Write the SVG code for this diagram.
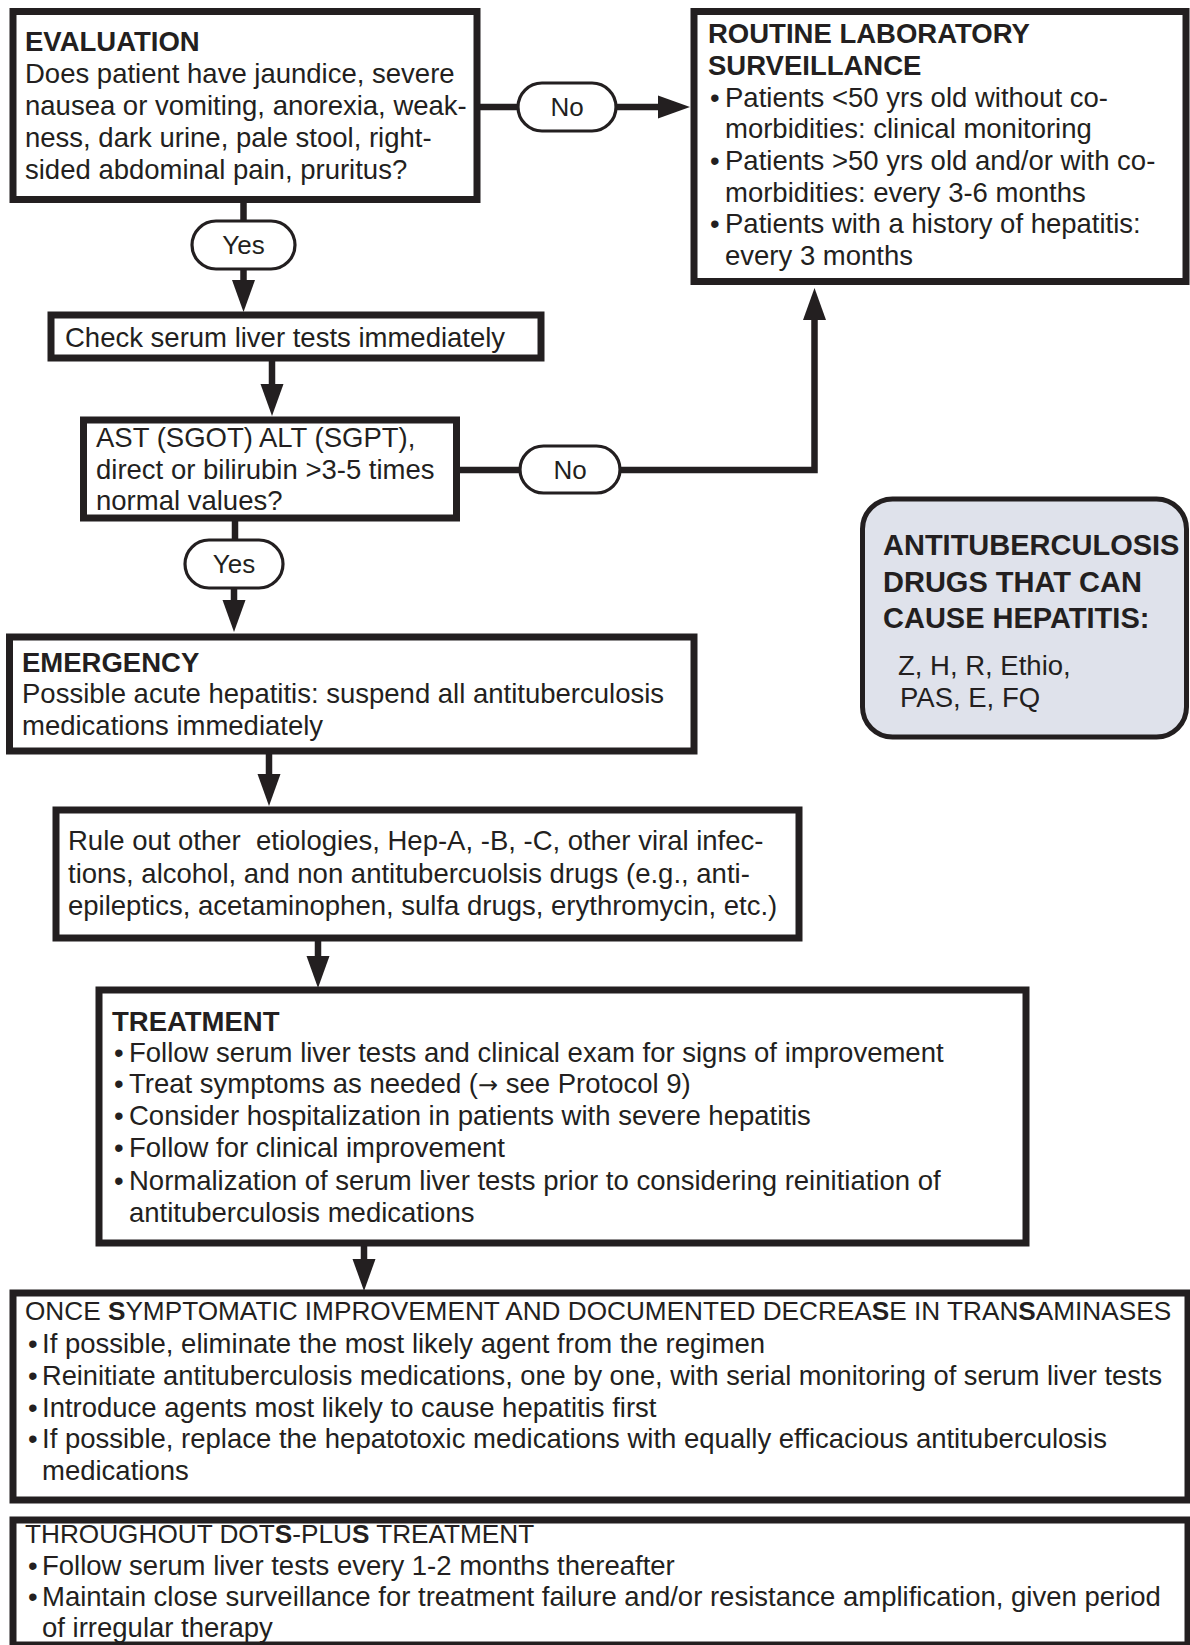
<svg xmlns="http://www.w3.org/2000/svg" width="1190" height="1645" viewBox="0 0 1190 1645">
  <style>
    text { font-family: "Liberation Sans", Arial, sans-serif; fill: #231f20; font-size: 27.5px; }
    .h { font-weight: bold; }
    .cap { font-size: 26.2px; }
    .b { font-weight: bold; }
    .tb { font-weight: bold; font-size: 29px; }
    .sym { font-family: "DejaVu Sans", sans-serif; font-size: 24px; }
    .pill-t { font-size: 26px; text-anchor: middle; }
    .box { fill: #ffffff; stroke: #231f20; stroke-width: 7; }
    .note { fill: #dfe2eb; stroke: #231f20; stroke-width: 5; }
    .pill { fill: #ffffff; stroke: #231f20; stroke-width: 3.2; }
    .line { fill: none; stroke: #231f20; stroke-width: 6.5; }
  </style>
  <defs>
    <marker id="arrow" markerUnits="userSpaceOnUse" markerWidth="32" markerHeight="23" refX="0" refY="11.5" orient="auto" overflow="visible">
      <path d="M0,0 L32,11.5 L0,23 Z" fill="#231f20"/>
    </marker>
  </defs>
  <rect width="1190" height="1645" fill="#ffffff"/>

  <!-- connectors -->
  <g id="connectors">
    <line class="line" x1="477" y1="107" x2="518" y2="107"/>
    <line class="line" x1="616" y1="107" x2="658" y2="107" marker-end="url(#arrow)"/>
    <line class="line" x1="243.5" y1="200" x2="243.5" y2="221"/>
    <line class="line" x1="243.5" y1="269" x2="243.5" y2="280" marker-end="url(#arrow)"/>
    <line class="line" x1="272" y1="358" x2="272" y2="384" marker-end="url(#arrow)"/>
    <line class="line" x1="456" y1="470" x2="520" y2="470"/>
    <path class="line" d="M620,470 H814.5 V320" marker-end="url(#arrow)"/>
    <line class="line" x1="235" y1="518" x2="235" y2="540"/>
    <line class="line" x1="234" y1="588" x2="234" y2="600" marker-end="url(#arrow)"/>
    <line class="line" x1="269" y1="751" x2="269" y2="774" marker-end="url(#arrow)"/>
    <line class="line" x1="318" y1="938" x2="318" y2="956" marker-end="url(#arrow)"/>
    <line class="line" x1="364" y1="1243" x2="364" y2="1259" marker-end="url(#arrow)"/>
  </g>

  <!-- evaluation question -->
  <g id="evaluation">
    <rect class="box" x="13" y="11.5" width="464" height="188"/>
    <text class="h" x="25" y="51">EVALUATION</text>
    <text x="25" y="83">Does patient have jaundice, severe</text>
    <text x="25" y="115">nausea or vomiting, anorexia, weak-</text>
    <text x="25" y="147">ness, dark urine, pale stool, right-</text>
    <text x="25" y="179">sided abdominal pain, pruritus?</text>
  </g>

  <g id="no-1">
    <rect class="pill" x="518" y="83" width="98" height="48" rx="24"/>
    <text class="pill-t" x="567" y="116">No</text>
  </g>

  <g id="yes-1">
    <rect class="pill" x="192" y="221" width="103" height="48" rx="24"/>
    <text class="pill-t" x="243.5" y="254">Yes</text>
  </g>

  <!-- routine surveillance -->
  <g id="routine">
    <rect class="box" x="694" y="11.5" width="492" height="270"/>
    <text class="h" x="708" y="43">ROUTINE LABORATORY</text>
    <text class="h" x="708" y="75">SURVEILLANCE</text>
    <text x="710" y="107">•</text><text x="725" y="107">Patients &lt;50 yrs old without co-</text>
    <text x="725" y="138">morbidities: clinical monitoring</text>
    <text x="710" y="170">•</text><text x="725" y="170">Patients &gt;50 yrs old and/or with co-</text>
    <text x="725" y="202">morbidities: every 3-6 months</text>
    <text x="710" y="233">•</text><text x="725" y="233">Patients with a history of hepatitis:</text>
    <text x="725" y="265">every 3 months</text>
  </g>

  <g id="check">
    <rect class="box" x="51" y="315" width="490" height="43"/>
    <text x="65" y="347">Check serum liver tests immediately</text>
  </g>

  <g id="ast">
    <rect class="box" x="83.5" y="420" width="373" height="98"/>
    <text x="96" y="447">AST (SGOT) ALT (SGPT),</text>
    <text x="96" y="479">direct or bilirubin &gt;3-5 times</text>
    <text x="96" y="510">normal values?</text>
  </g>

  <g id="no-2">
    <rect class="pill" x="520" y="446" width="100" height="47" rx="23.5"/>
    <text class="pill-t" x="570" y="479">No</text>
  </g>

  <g id="yes-2">
    <rect class="pill" x="185" y="540" width="98" height="48" rx="24"/>
    <text class="pill-t" x="234" y="573">Yes</text>
  </g>

  <!-- drug list -->
  <g id="drugs">
    <rect class="note" x="862.5" y="499" width="324" height="238" rx="30"/>
    <text class="tb" x="883" y="555">ANTITUBERCULOSIS</text>
    <text class="tb" x="883" y="592">DRUGS THAT CAN</text>
    <text class="tb" x="883" y="628">CAUSE HEPATITIS:</text>
    <text x="898" y="675">Z, H, R, Ethio,</text>
    <text x="900" y="707">PAS, E, FQ</text>
  </g>

  <g id="emergency">
    <rect class="box" x="9.5" y="637" width="684.5" height="114"/>
    <text class="h" x="22" y="672">EMERGENCY</text>
    <text x="22" y="703">Possible acute hepatitis: suspend all antituberculosis</text>
    <text x="22" y="735">medications immediately</text>
  </g>

  <g id="rule-out">
    <rect class="box" x="56" y="810" width="743" height="128"/>
    <text x="68" y="850" xml:space="preserve">Rule out other  etiologies, Hep-A, -B, -C, other viral infec-</text>
    <text x="68" y="883">tions, alcohol, and non antitubercuolsis drugs (e.g., anti-</text>
    <text x="68" y="915">epileptics, acetaminophen, sulfa drugs, erythromycin, etc.)</text>
  </g>

  <g id="treatment">
    <rect class="box" x="99" y="990" width="927" height="253"/>
    <text class="h" x="112" y="1031">TREATMENT</text>
    <text x="114" y="1062">•</text><text x="129" y="1062">Follow serum liver tests and clinical exam for signs of improvement</text>
    <text x="114" y="1093">•</text><text x="129" y="1093">Treat symptoms as needed (<tspan class="sym">→</tspan> see Protocol 9)</text>
    <text x="114" y="1125">•</text><text x="129" y="1125">Consider hospitalization in patients with severe hepatitis</text>
    <text x="114" y="1157">•</text><text x="129" y="1157">Follow for clinical improvement</text>
    <text x="114" y="1190">•</text><text x="129" y="1190">Normalization of serum liver tests prior to considering reinitiation of</text>
    <text x="129" y="1222">antituberculosis medications</text>
  </g>

  <g id="reinitiation">
    <rect class="box" x="13" y="1293" width="1175" height="207"/>
    <text class="cap" x="25" y="1320">ONCE <tspan class="b">S</tspan>YMPTOMATIC IMPROVEMENT AND DOCUMENTED DECREA<tspan class="b">S</tspan>E IN TRAN<tspan class="b">S</tspan>AMINASES</text>
    <text x="28" y="1353">•</text><text x="42" y="1353">If possible, eliminate the most likely agent from the regimen</text>
    <text x="28" y="1385">•</text><text x="42" y="1385" textLength="1120" lengthAdjust="spacingAndGlyphs">Reinitiate antituberculosis medications, one by one, with serial monitoring of serum liver tests</text>
    <text x="28" y="1417">•</text><text x="42" y="1417">Introduce agents most likely to cause hepatitis first</text>
    <text x="28" y="1448">•</text><text x="42" y="1448">If possible, replace the hepatotoxic medications with equally efficacious antituberculosis</text>
    <text x="42" y="1480">medications</text>
  </g>

  <g id="throughout">
    <rect class="box" x="13" y="1520" width="1175" height="125"/>
    <text class="cap" x="25" y="1543">THROUGHOUT DOT<tspan class="b">S</tspan>-PLU<tspan class="b">S</tspan> TREATMENT</text>
    <text x="28" y="1575">•</text><text x="42" y="1575">Follow serum liver tests every 1-2 months thereafter</text>
    <text x="28" y="1606">•</text><text x="42" y="1606">Maintain close surveillance for treatment failure and/or resistance amplification, given period</text>
    <text x="42" y="1637">of irregular therapy</text>
  </g>
</svg>
